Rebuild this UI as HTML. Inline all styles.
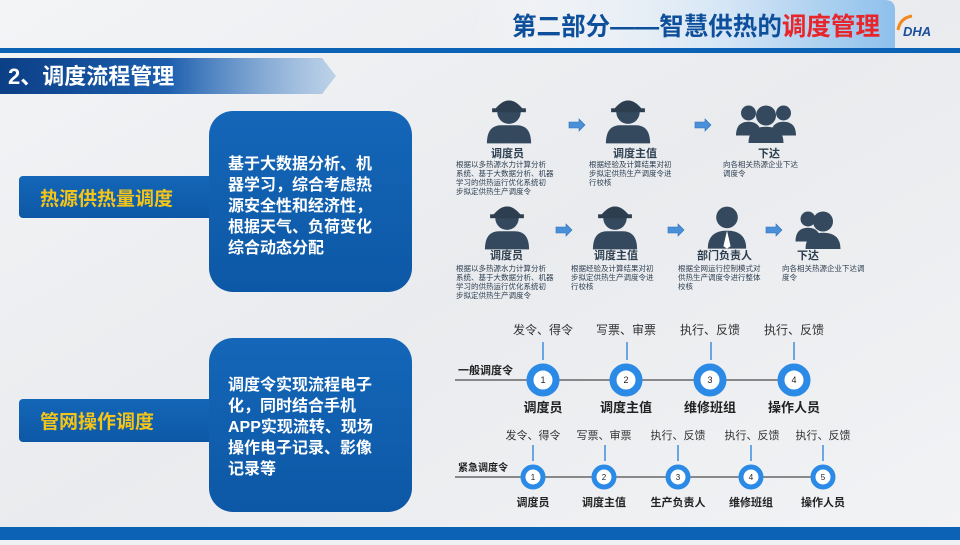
<!DOCTYPE html>
<html><head><meta charset="utf-8"><style>
body{margin:0;width:960px;height:540px;overflow:hidden;background:#eef0f2;font-family:"Liberation Sans","Noto Sans CJK SC",sans-serif}
svg text{font-family:"Liberation Sans","Noto Sans CJK SC",sans-serif}
</style></head><body>
<svg width="960" height="540" viewBox="0 0 960 540" xmlns="http://www.w3.org/2000/svg">
<defs>
<linearGradient id="bg" x1="0" y1="0" x2="1" y2="1"><stop offset="0" stop-color="#f3f4f6"/><stop offset="0.5" stop-color="#e9ebee"/><stop offset="1" stop-color="#f2f3f5"/></linearGradient>
<linearGradient id="tab" x1="0" y1="0" x2="1" y2="0"><stop offset="0" stop-color="#ffffff" stop-opacity="0"/><stop offset="0.6" stop-color="#d6e6f6"/><stop offset="1" stop-color="#8ec0ec"/></linearGradient>
<linearGradient id="tb" x1="0" y1="0" x2="1" y2="0"><stop offset="0" stop-color="#0b3f86"/><stop offset="0.5" stop-color="#1d5fae"/><stop offset="1" stop-color="#9dbfe2" stop-opacity="0.6"/></linearGradient>
<linearGradient id="lb" x1="0" y1="0" x2="0" y2="1"><stop offset="0" stop-color="#1466b8"/><stop offset="1" stop-color="#0d58a6"/></linearGradient>
<g id="worker"><g transform="scale(1.3)"><circle cx="0" cy="-6" r="9" fill="#34495e"/><path d="M-11,-8 Q0,-22 11,-8 Z" fill="#2c3e50"/><rect x="-13" y="-9" width="26" height="3" fill="#2c3e50"/><path d="M-17,18 Q-17,4 -6,4 L6,4 Q17,4 17,18 Z" fill="#34495e"/></g></g>
<g id="arr"><path d="M0,-3 L10,-3 L10,-6 L16,0 L10,6 L10,3 L0,3 Z" fill="#4a90d9" stroke="#2c6fb6" stroke-width="0.6"/></g>
</defs>
<rect width="960" height="540" fill="url(#bg)"/>
<path d="M470,0 L885,0 Q895,0 895,10 L895,48 L470,48 Z" fill="url(#tab)"/>
<text x="512" y="35" font-size="25" font-weight="bold" fill="#0d4f9b" textLength="368" lengthAdjust="spacingAndGlyphs">第二部分——智慧供热的<tspan fill="#e8252a">调度管理</tspan></text>
<text x="903" y="36" font-size="13" font-weight="bold" font-style="italic" fill="#1a4d9c">DHA</text>
<path d="M898,30 Q900,18 912,16" stroke="#f08a1c" stroke-width="3" fill="none"/>
<rect x="0" y="48" width="960" height="5" fill="#0c62b4"/>
<path d="M0,58 L322,58 L336,76 L322,94 L0,94 Z" fill="url(#tb)"/>
<text x="8" y="84" font-size="22" font-weight="bold" fill="#fff">2、调度流程管理</text>
<rect x="19" y="176" width="195" height="42" rx="4" fill="url(#lb)"/>
<text x="40" y="205" font-size="19" font-weight="bold" fill="#f4c518">热源供热量调度</text>
<rect x="209" y="111" width="203" height="181" rx="24" fill="url(#lb)"/>
<g font-size="16" font-weight="bold" fill="#fff">
<text x="228" y="169">基于大数据分析、机</text>
<text x="228" y="190">器学习，综合考虑热</text>
<text x="228" y="211">源安全性和经济性，</text>
<text x="228" y="232">根据天气、负荷变化</text>
<text x="228" y="253">综合动态分配</text>
</g>
<rect x="19" y="399" width="195" height="43" rx="4" fill="url(#lb)"/>
<text x="40" y="428" font-size="19" font-weight="bold" fill="#f4c518">管网操作调度</text>
<rect x="209" y="338" width="203" height="174" rx="24" fill="url(#lb)"/>
<g font-size="16" font-weight="bold" fill="#fff">
<text x="228" y="390">调度令实现流程电子</text>
<text x="228" y="411">化，同时结合手机</text>
<text x="228" y="432">APP实现流转、现场</text>
<text x="228" y="453">操作电子记录、影像</text>
<text x="228" y="474">记录等</text>
</g>
<use href="#worker" x="509" y="120"/><use href="#worker" x="628" y="120"/>
<g fill="#34495e" transform="translate(766,128) scale(1.25) translate(-766,-128)"><circle cx="752" cy="116" r="6"/><path d="M742,134 Q742,123 752,123 Q762,123 762,134Z"/><circle cx="780" cy="116" r="6"/><path d="M770,134 Q770,123 780,123 Q790,123 790,134Z"/><circle cx="766" cy="118" r="8"/><path d="M752,140 Q752,127 766,127 Q780,127 780,140Z"/></g>
<use href="#arr" x="569" y="125"/><use href="#arr" x="695" y="125"/>
<g font-size="11" font-weight="bold" fill="#2c3e50"><text x="491" y="157">调度员</text><text x="613" y="157">调度主值</text><text x="758" y="157">下达</text></g>
<g font-size="7.5" fill="#2c3e50">
<text x="456" y="167">根据以多热源水力计算分析</text><text x="456" y="176">系统、基于大数据分析、机器</text><text x="456" y="185">学习的供热运行优化系统初</text><text x="456" y="194">步拟定供热生产调度令</text>
<text x="589" y="167">根据经验及计算结果对初</text><text x="589" y="176">步拟定供热生产调度令进</text><text x="589" y="185">行校核</text>
<text x="723" y="167">向各相关热源企业下达</text><text x="723" y="176">调度令</text>
</g>
<use href="#worker" x="507" y="226"/><use href="#worker" x="615" y="226"/>
<g transform="translate(727,233) scale(1.2) translate(-727,-233)">
<g fill="#34495e"><circle cx="727" cy="220" r="9"/><path d="M711,246 Q711,231 727,231 Q743,231 743,246Z"/></g>
<path d="M727,231 L724,244 L727,246 L730,244Z" fill="#fff"/></g>
<g fill="#34495e" transform="translate(818,234) scale(1.25) translate(-818,-234)"><circle cx="810" cy="222" r="6"/><path d="M800,240 Q800,229 810,229 Q820,229 820,240Z"/><circle cx="822" cy="224" r="8"/><path d="M808,246 Q808,233 822,233 Q836,233 836,246Z"/></g>
<use href="#arr" x="556" y="230"/><use href="#arr" x="668" y="230"/><use href="#arr" x="766" y="230"/>
<g font-size="11" font-weight="bold" fill="#2c3e50"><text x="490" y="259">调度员</text><text x="594" y="259">调度主值</text><text x="697" y="259">部门负责人</text><text x="797" y="259">下达</text></g>
<g font-size="7.5" fill="#2c3e50">
<text x="456" y="271">根据以多热源水力计算分析</text><text x="456" y="280">系统、基于大数据分析、机器</text><text x="456" y="289">学习的供热运行优化系统初</text><text x="456" y="298">步拟定供热生产调度令</text>
<text x="571" y="271">根据经验及计算结果对初</text><text x="571" y="280">步拟定供热生产调度令进</text><text x="571" y="289">行校核</text>
<text x="678" y="271">根据全网运行控制模式对</text><text x="678" y="280">供热生产调度令进行整体</text><text x="678" y="289">校核</text>
<text x="782" y="271">向各相关热源企业下达调</text><text x="782" y="280">度令</text>
</g>
<line x1="455" y1="380" x2="780" y2="380" stroke="#222" stroke-width="1"/>
<text x="458" y="374" font-size="11" font-weight="bold" fill="#222">一般调度令</text>
<g font-size="12" fill="#333">
<text x="543" y="334" text-anchor="middle">发令、得令</text><text x="626" y="334" text-anchor="middle">写票、审票</text><text x="710" y="334" text-anchor="middle">执行、反馈</text><text x="794" y="334" text-anchor="middle">执行、反馈</text>
</g>
<g stroke="#3d8ee0" stroke-width="1.5"><line x1="543" y1="342" x2="543" y2="360"/><line x1="627" y1="342" x2="627" y2="360"/><line x1="711" y1="342" x2="711" y2="360"/><line x1="794" y1="342" x2="794" y2="360"/></g>
<g fill="#fff" stroke="#2b8ae6" stroke-width="7"><circle cx="543" cy="380" r="13"/><circle cx="626" cy="380" r="13"/><circle cx="710" cy="380" r="13"/><circle cx="794" cy="380" r="13"/></g>
<g font-size="9" fill="#222" text-anchor="middle"><text x="543" y="383">1</text><text x="626" y="383">2</text><text x="710" y="383">3</text><text x="794" y="383">4</text></g>
<g font-size="13" font-weight="bold" fill="#222" text-anchor="middle"><text x="543" y="412">调度员</text><text x="626" y="412">调度主值</text><text x="710" y="412">维修班组</text><text x="794" y="412">操作人员</text></g>
<line x1="455" y1="477" x2="815" y2="477" stroke="#222" stroke-width="1"/>
<text x="458" y="471" font-size="10" font-weight="bold" fill="#222">紧急调度令</text>
<g font-size="11" fill="#333">
<text x="533" y="439" text-anchor="middle">发令、得令</text><text x="604" y="439" text-anchor="middle">写票、审票</text><text x="678" y="439" text-anchor="middle">执行、反馈</text><text x="752" y="439" text-anchor="middle">执行、反馈</text><text x="823" y="439" text-anchor="middle">执行、反馈</text>
</g>
<g stroke="#3d8ee0" stroke-width="1.5"><line x1="533" y1="445" x2="533" y2="461"/><line x1="605" y1="445" x2="605" y2="461"/><line x1="678" y1="445" x2="678" y2="461"/><line x1="751" y1="445" x2="751" y2="461"/><line x1="823" y1="445" x2="823" y2="461"/></g>
<g fill="#fff" stroke="#2b8ae6" stroke-width="5"><circle cx="533" cy="477" r="10"/><circle cx="604" cy="477" r="10"/><circle cx="678" cy="477" r="10"/><circle cx="751" cy="477" r="10"/><circle cx="823" cy="477" r="10"/></g>
<g font-size="8" fill="#222" text-anchor="middle"><text x="533" y="480">1</text><text x="604" y="480">2</text><text x="678" y="480">3</text><text x="751" y="480">4</text><text x="823" y="480">5</text></g>
<g font-size="11" font-weight="bold" fill="#222" text-anchor="middle"><text x="533" y="506">调度员</text><text x="604" y="506">调度主值</text><text x="678" y="506">生产负责人</text><text x="751" y="506">维修班组</text><text x="823" y="506">操作人员</text></g>
<rect x="0" y="527" width="960" height="13" fill="#0c62b4"/>
</svg>
</body></html>
